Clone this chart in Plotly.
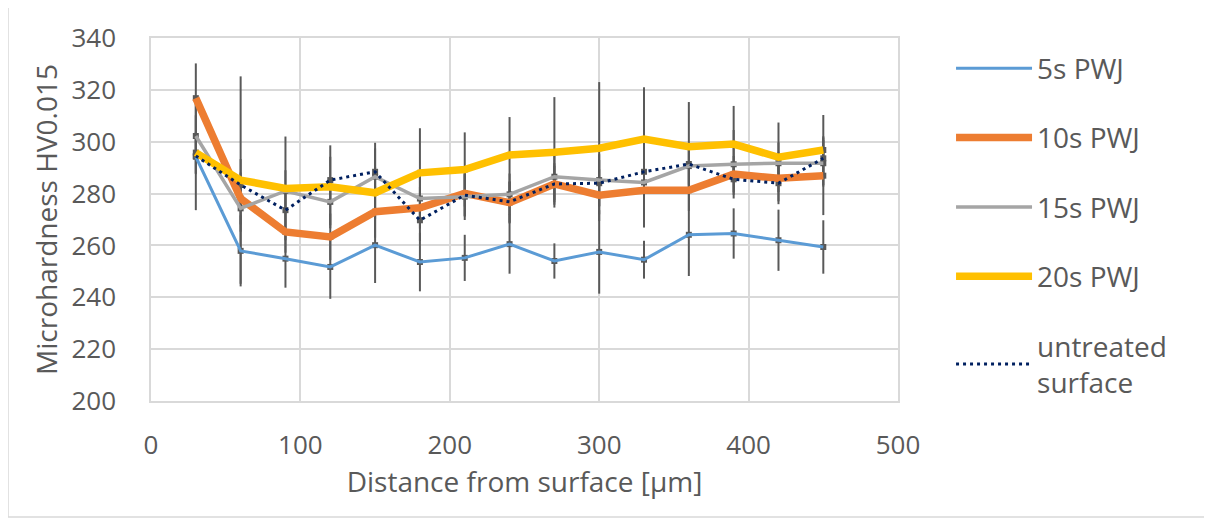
import plotly.graph_objects as go

distance = [30, 60, 90, 120, 150, 180, 210, 240, 270, 300, 330, 360, 390, 420, 450]

hv_5s = [294.2, 257.9, 254.9, 251.7, 260.1, 253.6, 255.2, 260.5, 254.0, 257.5, 254.5, 264.1, 264.6, 262.0, 259.4]
err_5s = [20.6, 13.7, 11.2, 12.3, 14.6, 11.3, 8.9, 11.4, 6.8, 16.1, 7.3, 15.9, 9.7, 11.8, 10.3]

hv_10s = [316.8, 278.1, 265.2, 263.3, 273.0, 274.5, 280.1, 276.5, 283.7, 279.4, 281.3, 281.3, 287.5, 285.9, 286.9]
err_10s = [13.4, 10, 8, 9, 10, 8, 9, 8, 8, 10, 14.4, 8, 7, 10, 15.2]

hv_15s = [302.2, 274.3, 281.0, 276.8, 286.5, 278.1, 278.8, 279.7, 286.5, 285.2, 284.3, 290.6, 291.3, 291.7, 291.7]
err_15s = [8, 9, 8, 9, 13.1, 9, 9, 8, 9, 10, 10, 9, 13.2, 8, 9]

hv_20s = [295.8, 285.2, 282.0, 282.6, 280.3, 288.0, 289.3, 294.9, 295.9, 297.5, 301.0, 298.1, 299.1, 294.0, 296.8]
err_20s = [8, 40, 20, 16, 10, 17.2, 14.3, 14.6, 21.3, 25.5, 20, 17.2, 14.7, 13.4, 13.5]

hv_untreated = [294.5, 283.3, 273.6, 285.2, 288.4, 269.7, 279.4, 276.8, 283.7, 284.0, 288.4, 291.4, 285.5, 284.0, 293.6]
err_untreated = [7, 10, 8, 9, 9, 8, 8, 8, 7, 9, 9, 8, 6, 7, 8]

series = [
    ("5s PWJ", hv_5s, err_5s, "#5B9BD5", 3, "solid"),
    ("10s PWJ", hv_10s, err_10s, "#ED7D31", 7.5, "solid"),
    ("15s PWJ", hv_15s, err_15s, "#A5A5A5", 3.5, "solid"),
    ("20s PWJ", hv_20s, err_20s, "#FFC000", 7.5, "solid"),
    ("untreated<br>surface", hv_untreated, err_untreated, "#002060", 3, "3px,4px"),
]

FONT = "'Open Sans', Lato, sans-serif"
TXT = "#595959"
GRID = "#D9D9D9"

# page body adds an 8px offset; figure is sized to fit the window
W, H = 1204, 515
L, T, PW, PH = 143, 30, 747, 363

fig = go.Figure()

# error bars + small markers underneath the lines
for name, y, err, color, w, dash in series:
    fig.add_trace(go.Scatter(
        x=distance, y=y, mode="markers", showlegend=False, hoverinfo="skip",
        marker=dict(symbol="square", size=6, color="#595959"),
        error_y=dict(type="data", array=err, visible=True, color="#595959",
                     thickness=2, width=0),
    ))

for i, (name, y, err, color, w, dash) in enumerate(series):
    fig.add_trace(go.Scatter(
        x=distance, y=y, mode="lines", name=name, legendgroup=f"g{i}",
        line=dict(color=color, width=w, dash=dash),
    ))

fig.update_layout(
    width=W, height=H,
    margin=dict(l=L, r=W - L - PW, t=T, b=H - T - PH, autoexpand=False),
    paper_bgcolor="white", plot_bgcolor="white",
    font=dict(family=FONT, size=26, color=TXT),
    legend=dict(x=1.071, xanchor="left", y=0.985, yanchor="top",
                font=dict(family=FONT, size=28, color=TXT),
                tracegroupgap=30, itemwidth=76, bgcolor="rgba(0,0,0,0)", maxheight=480),
    xaxis=dict(range=[0, 500], dtick=100, showgrid=True, gridcolor=GRID, gridwidth=1.5,
               showline=True, linecolor=GRID, linewidth=1.5, mirror=True, zeroline=False,
               ticks="", ticklabelstandoff=20,
               title=dict(text="Distance from surface [µm]", standoff=10,
                          font=dict(family=FONT, size=28, color=TXT)),
               tickfont=dict(family=FONT, size=26, color=TXT)),
    yaxis=dict(range=[200, 340], dtick=20, showgrid=True, gridcolor=GRID, gridwidth=1.5,
               showline=True, linecolor=GRID, linewidth=1.5, mirror=True, zeroline=False,
               ticks="", ticklabelstandoff=28,
               title=dict(text="Microhardness HV0.015", standoff=6,
                          font=dict(family=FONT, size=28, color=TXT)),
               tickfont=dict(family=FONT, size=26, color=TXT)),
    shapes=[dict(type="rect", xref="paper", yref="paper",
                 x0=(0 - L) / PW, x1=(1197 - L) / PW,
                 y0=-(509 - (T + PH)) / PH, y1=1 + (T + 3) / PH,
                 line=dict(color=GRID, width=1.5), fillcolor="rgba(0,0,0,0)", layer="below")],
)

fig.write_html("out.html")
